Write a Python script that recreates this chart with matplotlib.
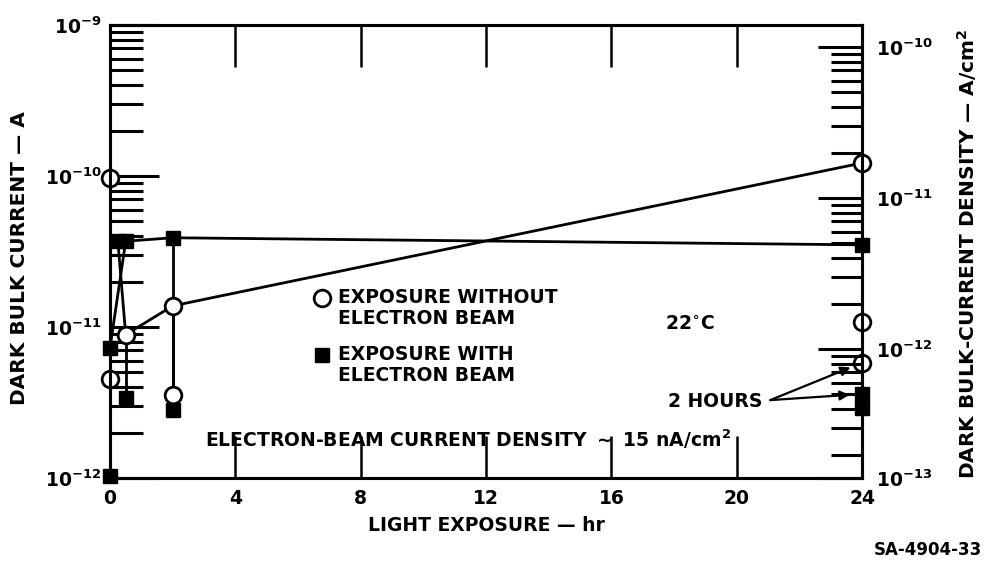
import matplotlib.pyplot as plt
from matplotlib.ticker import LogLocator, NullFormatter

plt.rcParams['font.family'] = ['DejaVu Sans']
plt.rcParams['font.weight'] = 'bold'
plt.rcParams['axes.labelweight'] = 'bold'
plt.rcParams['mathtext.fontset'] = 'custom'
plt.rcParams['mathtext.rm'] = 'DejaVu Sans:bold'
plt.rcParams['mathtext.it'] = 'DejaVu Sans:bold'
plt.rcParams['mathtext.bf'] = 'DejaVu Sans:bold'

# exposure without electron beam (open circles)
t_open = [0, 0, 0.5, 2, 2, 24, 24, 24]
i_open = [9.7e-11, 4.5e-12, 8.9e-12, 1.38e-11, 3.55e-12, 1.22e-10, 1.08e-11, 5.8e-12]

# exposure with electron beam (filled squares)
t_beam = [0, 0, 0.25, 0.5, 0.5, 2, 2, 24, 24, 24]
i_beam = [1.03e-12, 7.3e-12, 3.7e-11, 3.7e-11, 3.4e-12, 3.9e-11, 2.8e-12, 3.5e-11, 3.6e-12, 2.9e-12]

# how the measured points are joined (indices into the lists above)
open_path = [2, 3, 5]
beam_path = [1, 3, 5, 7]
cross_link = (2, 2)            # beam point -> open point
open_drops = [(0, 1), (3, 4)]  # vertical runs inside the open series
beam_drops = [(0, 1), (7, 9)]
open_to_beam = [(2, 4), (6, 9)]
beam_to_open = [(5, 4), (7, 5)]

x_ticks = [0, 4, 8, 12, 16, 20, 24]
left_ticks = [1e-12, 1e-11, 1e-10, 1e-9]
left_labels = [r'$10^{-12}$', r'$10^{-11}$', r'$10^{-10}$', r'$10^{-9}$']
area_factor = 7.15  # A  ->  A/cm^2
right_ticks = [1e-12 / area_factor, 1e-12, 1e-11, 1e-10]
right_labels = [r'$10^{-13}$', r'$10^{-12}$', r'$10^{-11}$', r'$10^{-10}$']

fs = 13.5

fig = plt.figure(figsize=(9.85, 5.7), dpi=100)
ax = fig.add_axes([0.1117, 0.1614, 0.7635, 0.7947])
ax.set_yscale('log')
ax.set_xlim(0, 24)
ax.set_ylim(1e-12, 1e-9)

lw = 2.0
def seg(xs, ys):
    ax.plot(xs, ys, color='black', lw=lw, zorder=2, clip_on=False)

seg([t_open[i] for i in open_path], [i_open[i] for i in open_path])
seg([t_beam[i] for i in beam_path], [i_beam[i] for i in beam_path])
seg([t_beam[cross_link[0]], t_open[cross_link[1]]], [i_beam[cross_link[0]], i_open[cross_link[1]]])
for a, b in open_drops:
    seg([t_open[a], t_open[b]], [i_open[a], i_open[b]])
for a, b in beam_drops:
    seg([t_beam[a], t_beam[b]], [i_beam[a], i_beam[b]])
for a, b in open_to_beam:
    seg([t_open[a], t_beam[b]], [i_open[a], i_beam[b]])
for a, b in beam_to_open:
    seg([t_beam[a], t_open[b]], [i_beam[a], i_open[b]])

ax.plot(t_beam, i_beam, ls='none', marker='s', ms=10, mfc='black', mec='black',
        zorder=3, clip_on=False)
ax.plot(t_open, i_open, ls='none', marker='o', ms=12, mfc='white', mec='black',
        mew=2, zorder=4, clip_on=False)

for s in ax.spines.values():
    s.set_linewidth(2.2)

ax.set_xticks(x_ticks)
ax.set_xticklabels([str(v) for v in x_ticks], fontsize=fs)
ax.tick_params(axis='x', direction='in', length=30, width=1.8, top=True, pad=8)
ax.set_yticks(left_ticks)
ax.set_yticklabels(left_labels, fontsize=fs)
ax.yaxis.set_minor_locator(LogLocator(base=10, subs=range(2, 10)))
ax.yaxis.set_minor_formatter(NullFormatter())
ax.tick_params(axis='y', which='major', direction='in', length=35, width=2.2, pad=6)
ax.tick_params(axis='y', which='minor', direction='in', length=24, width=2.2)

ax2 = ax.twinx()
ax2.set_yscale('log')
ax2.set_ylim(1e-12 / area_factor, 1e-9 / area_factor)
ax2.set_yticks(right_ticks)
ax2.set_yticklabels(right_labels, fontsize=fs)
ax2.yaxis.set_minor_locator(LogLocator(base=10, subs=range(2, 10)))
ax2.yaxis.set_minor_formatter(NullFormatter())
ax2.tick_params(axis='y', which='major', direction='in', length=32, width=2.2, pad=10)
ax2.tick_params(axis='y', which='minor', direction='in', length=22, width=2.2)
for s in ax2.spines.values():
    s.set_linewidth(2.2)

ax.set_xlabel('LIGHT EXPOSURE \u2014 hr', fontsize=fs, labelpad=6)
fig.text(0.02, 0.548, 'DARK BULK CURRENT \u2014 A', rotation=90, fontsize=14.5,
         ha='center', va='center')
fig.text(0.982, 0.555, 'DARK BULK-CURRENT DENSITY \u2014 A/cm$^{2}$', rotation=90,
         fontsize=14.5, ha='center', va='center')

# key
ax.plot([0.282], [0.397], transform=ax.transAxes, marker='o', ms=12, mfc='white',
        mec='black', mew=2, ls='none', clip_on=False)
ax.text(0.303, 0.375, 'EXPOSURE WITHOUT\nELECTRON BEAM', transform=ax.transAxes,
        fontsize=fs, va='center', ha='left', linespacing=1.1)
ax.plot([0.282], [0.2715], transform=ax.transAxes, marker='s', ms=10, mfc='black',
        mec='black', ls='none', clip_on=False)
ax.text(0.303, 0.249, 'EXPOSURE WITH\nELECTRON BEAM', transform=ax.transAxes,
        fontsize=fs, va='center', ha='left', linespacing=1.1)

ax.text(0.771, 0.34, r'22$^{\circ}$C', transform=ax.transAxes, fontsize=fs,
        ha='center', va='center')
ax.text(0.126, 0.085, r'ELECTRON-BEAM CURRENT DENSITY $\sim$ 15 nA/cm$^{2}$',
        transform=ax.transAxes, fontsize=fs, ha='left', va='center')

# "2 HOURS" pointers
ax.text(0.867, 0.168, '2 HOURS', transform=ax.transAxes, fontsize=fs,
        ha='right', va='center')
for tx, ty in [(t_open[7], i_open[7]), (t_beam[8], i_beam[8])]:
    ax.annotate('', xy=(tx, ty), xytext=(0.878, 0.172), textcoords='axes fraction',
                arrowprops=dict(arrowstyle='-|>', color='black', lw=1.6,
                                mutation_scale=14, shrinkA=0, shrinkB=9))

fig.text(0.997, 0.02, 'SA-4904-33', fontsize=12, ha='right', va='bottom')

fig.savefig('out.png', dpi=100)
